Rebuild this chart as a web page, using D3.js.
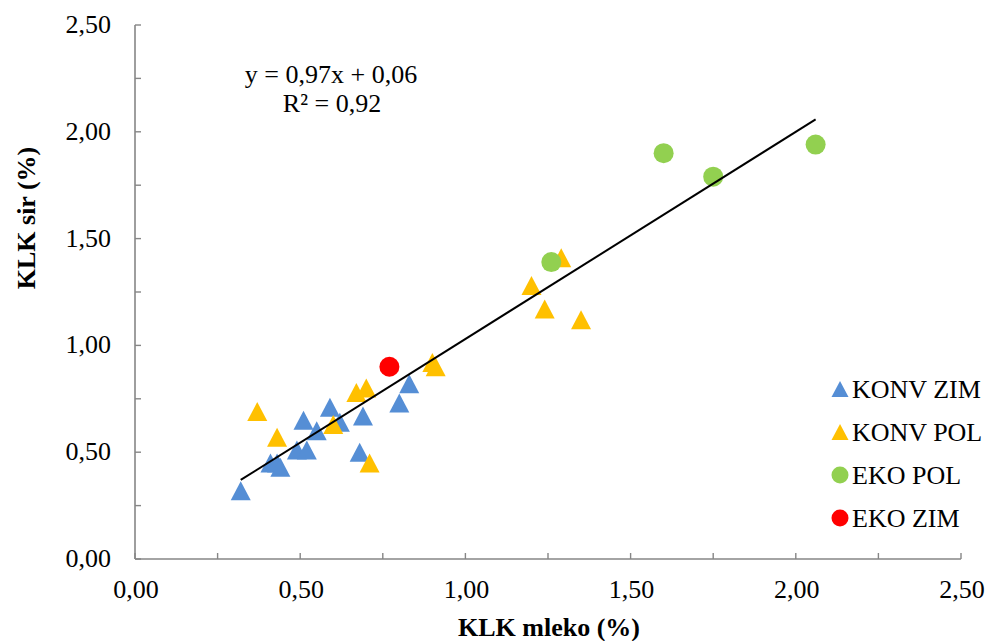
<!DOCTYPE html>
<html>
<head>
<meta charset="utf-8">
<script src="https://cdn.jsdelivr.net/npm/d3@7"></script>
<style>
  html, body { margin: 0; padding: 0; background: #ffffff; }
  svg { display: block; }
</style>
</head>
<body>
<svg id="chart" width="987" height="641"></svg>
<script>
// ---- data ----
const konvZimX = [0.32, 0.41, 0.43, 0.44, 0.49, 0.52, 0.51, 0.55, 0.59, 0.62, 0.69, 0.80, 0.83, 0.68];
const konvZimY = [0.32, 0.45, 0.45, 0.43, 0.51, 0.51, 0.65, 0.60, 0.71, 0.64, 0.67, 0.73, 0.82, 0.50];
const konvPolX = [0.37, 0.43, 0.60, 0.67, 0.70, 0.71, 0.90, 0.91, 1.29, 1.20, 1.24, 1.35];
const konvPolY = [0.69, 0.57, 0.63, 0.78, 0.80, 0.45, 0.92, 0.90, 1.41, 1.28, 1.17, 1.12];
const ekoPolX = [1.26, 1.60, 1.75, 2.06];
const ekoPolY = [1.39, 1.90, 1.79, 1.94];
const ekoZimX = [0.77];
const ekoZimY = [0.90];
const seriesNames = ["KONV ZIM", "KONV POL", "EKO POL", "EKO ZIM"];
const seriesColors = ["#558ED5", "#FFC000", "#92D050", "#FF0000"];
const seriesShapes = ["triangle", "triangle", "circle", "circle"];
const tickValues = [0, 0.5, 1.0, 1.5, 2.0, 2.5];
const minorTickValues = [0, 0.25, 0.5, 0.75, 1.0, 1.25, 1.5, 1.75, 2.0, 2.25, 2.5];
const slope = 0.97, intercept = 0.06, r2 = 0.92;
const xTitle = "KLK mleko (%)";
const yTitle = "KLK sir (%)";

const fmt = v => d3.format(".2f")(v).replace(".", ",");
const FONT = "'Times New Roman', 'Liberation Serif', Tinos, 'DejaVu Serif', serif";

const svg = d3.select("#chart");
const L = 135, R = 961, T = 25, B = 559;
const x = d3.scaleLinear().domain([0, 2.5]).range([L, R]);
const y = d3.scaleLinear().domain([0, 2.5]).range([B, T]);
const axisColor = "#868686";
const FS = 26;

function txt(sel) {
  return sel.attr("font-family", FONT).style("font-family", FONT)
    .attr("fill", "#000").style("font-size", FS + "px");
}

// axes lines
const ax = svg.append("g");
ax.append("line").attr("x1", L).attr("x2", L).attr("y1", T).attr("y2", B)
  .attr("stroke", axisColor).attr("stroke-width", 1.6);
ax.append("line").attr("x1", L).attr("x2", R).attr("y1", B).attr("y2", B)
  .attr("stroke", axisColor).attr("stroke-width", 1.6);
// ticks
minorTickValues.forEach(v => {
  ax.append("line").attr("x1", x(v)).attr("x2", x(v)).attr("y1", B).attr("y2", B - 6)
    .attr("stroke", axisColor).attr("stroke-width", 1.4);
  ax.append("line").attr("x1", L).attr("x2", L + 6).attr("y1", y(v)).attr("y2", y(v))
    .attr("stroke", axisColor).attr("stroke-width", 1.4);
});
// tick labels
tickValues.forEach(v => {
  txt(svg.append("text")).attr("x", x(v) + 1).attr("y", 598).attr("text-anchor", "middle").text(fmt(v));
  txt(svg.append("text")).attr("x", 111).attr("y", y(v) + 8).attr("text-anchor", "end").text(fmt(v));
});
// axis titles
txt(svg.append("text")).attr("x", 549).attr("y", 636).attr("text-anchor", "middle")
  .style("font-weight", "bold").text(xTitle);
txt(svg.append("text")).attr("transform", `translate(35, 218) rotate(-90)`)
  .attr("text-anchor", "middle").style("font-weight", "bold").text(yTitle);

// markers
const triPath = (w, h) => `M0,${-h/2}L${w/2},${h/2}L${-w/2},${h/2}Z`;
const allSeries = [
  [konvZimX, konvZimY], [konvPolX, konvPolY], [ekoPolX, ekoPolY], [ekoZimX, ekoZimY]
];
allSeries.forEach((s, i) => {
  const pts = s[0].map((xv, j) => [xv, s[1][j]]);
  const g = svg.append("g");
  if (seriesShapes[i] === "triangle") {
    g.selectAll("path").data(pts).join("path")
      .attr("d", triPath(20, 19))
      .attr("transform", d => `translate(${x(d[0])},${y(d[1])})`)
      .attr("fill", seriesColors[i]);
  } else {
    g.selectAll("circle").data(pts).join("circle")
      .attr("cx", d => x(d[0])).attr("cy", d => y(d[1])).attr("r", 10)
      .attr("fill", seriesColors[i]);
  }
});

// trend line
const allX = [].concat(konvZimX, konvPolX, ekoPolX, ekoZimX);
const x0 = d3.min(allX), x1 = d3.max(allX);
svg.append("line")
  .attr("x1", x(x0)).attr("y1", y(slope * x0 + intercept))
  .attr("x2", x(x1)).attr("y2", y(slope * x1 + intercept))
  .attr("stroke", "#000").attr("stroke-width", 2);

// equation
txt(svg.append("text")).attr("x", 331).attr("y", 83).attr("text-anchor", "middle")
  .text(`y = ${fmt(slope)}x + ${fmt(intercept)}`);
txt(svg.append("text")).attr("x", 332).attr("y", 112).attr("text-anchor", "middle")
  .text(`R² = ${fmt(r2)}`);

// legend
const legendY = [389, 432, 475, 518];
seriesNames.forEach((name, i) => {
  const g = svg.append("g").attr("transform", `translate(840, ${legendY[i]})`);
  if (seriesShapes[i] === "triangle") {
    g.append("path").attr("d", triPath(17, 16)).attr("fill", seriesColors[i]);
  } else {
    g.append("circle").attr("r", 8.5).attr("fill", seriesColors[i]);
  }
  txt(g.append("text")).attr("x", 12).attr("y", 9).text(name);
});
</script>
</body>
</html>
